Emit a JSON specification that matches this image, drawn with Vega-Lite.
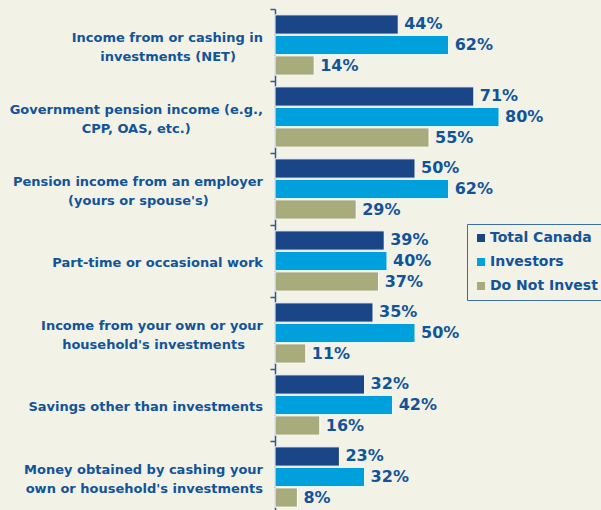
{
  "$schema": "https://vega.github.io/schema/vega-lite/v6.json",
  "width": 326,
  "height": 504,
  "autosize": {"type": "none"},
  "padding": {"left": 275, "top": 9, "right": 0, "bottom": 0},
  "background": "#F3F2E7",
  "data": {
    "values": [
      {"category": "Income from or cashing in\ninvestments (NET)", "series": "Total Canada", "value": 0.44},
      {"category": "Income from or cashing in\ninvestments (NET)", "series": "Investors", "value": 0.62},
      {"category": "Income from or cashing in\ninvestments (NET)", "series": "Do Not Invest", "value": 0.14},
      {"category": "Government pension income (e.g.,\nCPP, OAS, etc.)", "series": "Total Canada", "value": 0.71},
      {"category": "Government pension income (e.g.,\nCPP, OAS, etc.)", "series": "Investors", "value": 0.80},
      {"category": "Government pension income (e.g.,\nCPP, OAS, etc.)", "series": "Do Not Invest", "value": 0.55},
      {"category": "Pension income from an employer\n(yours or spouse's)", "series": "Total Canada", "value": 0.50},
      {"category": "Pension income from an employer\n(yours or spouse's)", "series": "Investors", "value": 0.62},
      {"category": "Pension income from an employer\n(yours or spouse's)", "series": "Do Not Invest", "value": 0.29},
      {"category": "Part-time or occasional work", "series": "Total Canada", "value": 0.39},
      {"category": "Part-time or occasional work", "series": "Investors", "value": 0.40},
      {"category": "Part-time or occasional work", "series": "Do Not Invest", "value": 0.37},
      {"category": "Income from your own or your\nhousehold's investments", "series": "Total Canada", "value": 0.35},
      {"category": "Income from your own or your\nhousehold's investments", "series": "Investors", "value": 0.50},
      {"category": "Income from your own or your\nhousehold's investments", "series": "Do Not Invest", "value": 0.11},
      {"category": "Savings other than investments", "series": "Total Canada", "value": 0.32},
      {"category": "Savings other than investments", "series": "Investors", "value": 0.42},
      {"category": "Savings other than investments", "series": "Do Not Invest", "value": 0.16},
      {"category": "Money obtained by cashing your\nown or household's investments", "series": "Total Canada", "value": 0.23},
      {"category": "Money obtained by cashing your\nown or household's investments", "series": "Investors", "value": 0.32},
      {"category": "Money obtained by cashing your\nown or household's investments", "series": "Do Not Invest", "value": 0.08}
    ]
  },
  "encoding": {
    "y": {
      "field": "category",
      "type": "nominal",
      "sort": null,
      "scale": {"paddingInner": 0, "paddingOuter": 0},
      "axis": {
        "title": null,
        "labels": false,
        "domainColor": "#2B5C9B",
        "domainWidth": 1.5,
        "tickColor": "#2B5C9B",
        "tickSize": 5,
        "tickWidth": 1.5,
        "tickBand": "extent"
      }
    },
    "x": {
      "field": "value",
      "type": "quantitative",
      "scale": {"domain": [0, 1.164]},
      "axis": null
    }
  },
  "layer": [
    {
      "mark": {"type": "bar", "stroke": "white", "strokeWidth": 1},
      "encoding": {
        "yOffset": {
          "field": "series",
          "sort": ["Total Canada", "Investors", "Do Not Invest"],
          "scale": {"paddingInner": 0.06, "paddingOuter": 0.285}
        },
        "color": {
          "field": "series",
          "type": "nominal",
          "scale": {
            "domain": ["Total Canada", "Investors", "Do Not Invest"],
            "range": ["#1A4587", "#00A0DC", "#A8AB7B"]
          },
          "legend": {
            "title": null,
            "orient": "none",
            "legendX": 192,
            "legendY": 215,
            "padding": 7,
            "rowPadding": 10,
            "strokeColor": "#3A6EA5",
            "fillColor": "#F3F2E7",
            "symbolType": "square",
            "symbolSize": 64,
            "symbolStrokeWidth": 0,
            "labelOffset": 2,
            "labelFont": "DejaVu Sans",
            "labelFontWeight": "bold",
            "labelFontSize": 14,
            "labelColor": "#12549A",
            "labelLimit": 300
          }
        }
      }
    },
    {
      "mark": {
        "type": "text",
        "align": "left",
        "baseline": "middle",
        "dx": 6,
        "font": "DejaVu Sans",
        "fontWeight": "bold",
        "fontSize": 16,
        "color": "#12549A"
      },
      "encoding": {
        "yOffset": {
          "field": "series",
          "sort": ["Total Canada", "Investors", "Do Not Invest"],
          "scale": {"paddingInner": 0.06, "paddingOuter": 0.285}
        },
        "text": {"field": "value", "type": "quantitative", "format": ".0%"}
      }
    },
    {
      "transform": [
        {"filter": "datum.series == 'Total Canada' && indexof(datum.category, '\\n') >= 0"},
        {"calculate": "datum.category + pad('', indexof(datum.category, 'NET') >= 0 ? 6 : indexof(datum.category, 'CPP') >= 0 ? 16 : indexof(datum.category, 'yours or') >= 0 ? 12 : indexof(datum.category, 'Income from your') >= 0 ? 4 : 0, '\u00a0') + '\u200b'", "as": "label"}
      ],
      "mark": {
        "type": "text",
        "align": "right",
        "baseline": "line-bottom",
        "lineBreak": "\n",
        "lineHeight": 19,
        "dx": -12,
        "dy": 3,
        "font": "DejaVu Sans",
        "fontWeight": "bold",
        "fontSize": 13,
        "color": "#12549A"
      },
      "encoding": {
        "x": {"datum": 0},
        "text": {"field": "label", "type": "nominal"}
      }
    },
    {
      "transform": [
        {"filter": "datum.series == 'Total Canada' && indexof(datum.category, '\\n') < 0"}
      ],
      "mark": {
        "type": "text",
        "align": "right",
        "baseline": "middle",
        "dx": -12,
        "dy": 2,
        "font": "DejaVu Sans",
        "fontWeight": "bold",
        "fontSize": 13,
        "color": "#12549A"
      },
      "encoding": {
        "x": {"datum": 0},
        "text": {"field": "category", "type": "nominal"}
      }
    }
  ],
  "config": {"view": {"stroke": null}}
}
